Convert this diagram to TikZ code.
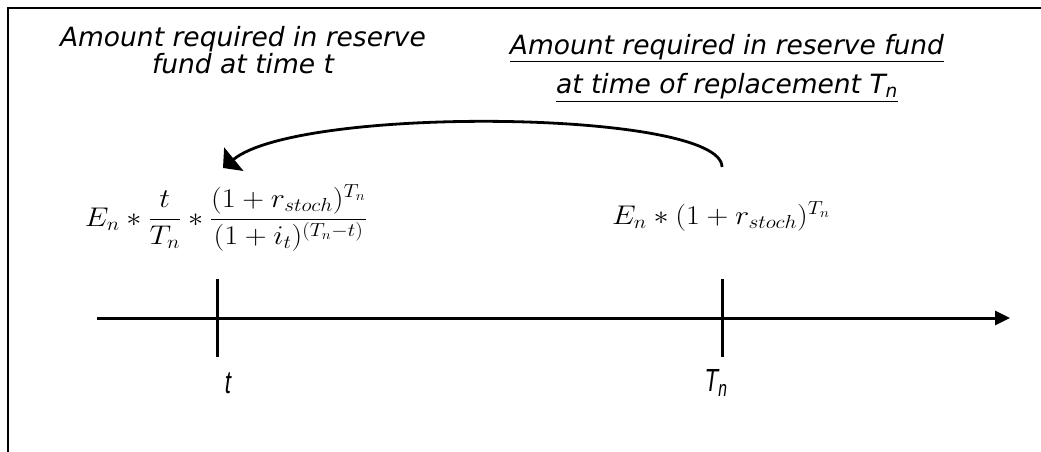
\documentclass[tikz,border=0pt]{standalone}
\usepackage{fix-cm}
\usepackage{fontspec}
\setmainfont{DejaVu Sans}
\newfontfamily\labelfont{Liberation Sans}
\usetikzlibrary{arrows.meta}

\begin{document}
\begin{tikzpicture}[x=1pt,y=-1pt,
    titletext/.style={inner sep=0pt, align=center, font=\fontsize{26.5}{24}\selectfont\itshape},
    formula/.style={inner sep=0pt, anchor=base, font=\fontsize{27}{30}\selectfont},
    timelabel/.style={inner sep=0pt, font=\labelfont\fontsize{32}{32}\selectfont\itshape},
    axisline/.style={line width=3pt},
    backarrow/.style={line width=2.8pt, -{Triangle[width=30pt,length=14pt]}}]
  % Marco
  \useasboundingbox (0,0) rectangle (1041,452);
  \draw[line width=2pt] (8,452) -- (8,8) -- (1041,8);

  % Titulos
  \node[titletext] (lefttitle) at (243,50) {Amount required in reserve\\fund at time t};
  \node[titletext, font=\fontsize{26.5}{39}\selectfont\itshape] (righttitle) at (727,68)
    {\underline{Amount required in reserve fund}\\\underline{at time of replacement T\textsubscript{n}}};

  % Formulas
  \node[formula] (fundt) at (226,226)
    {\scalebox{1.12}[1]{$\displaystyle E_n * \frac{t}{T_n} * \frac{(1+r_{stoch})^{T_n}}{(1+i_t)^{(T_n-t)}}$}};
  \node[formula] (fundTn) at (721,224) {\scalebox{1.12}[1]{$E_n * (1+r_{stoch})^{T_n}$}};

  % Eje de tiempo
  \coordinate (axisstart) at (97,318);
  \coordinate (axisend) at (1010,318);
  \draw[axisline, -{Triangle[width=14pt,length=15pt]}] (axisstart) -- (axisend);
  \draw[axisline] (217,279) -- (217,357);
  \draw[axisline] (722,279) -- (722,357);
  \node[timelabel] (labt) at (228,383) {\scalebox{0.7}[1]{t}};
  \node[timelabel] (labTn) at (716,383) {\scalebox{0.7}[1]{T\textsubscript{n}}};

  % Flecha de descuento
  \coordinate (curvestart) at (722,167);
  \coordinate (curveend) at (223,168);
  \draw[backarrow] (curvestart) .. controls (722,110) and (300,105) .. (curveend);
\end{tikzpicture}
\end{document}
